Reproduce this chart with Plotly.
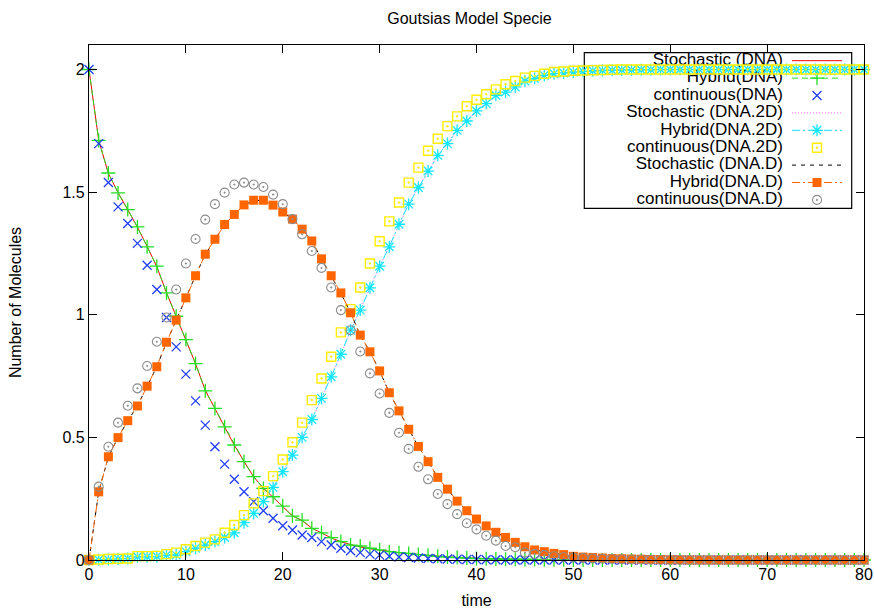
import plotly.graph_objects as go

# ---------------- data ----------------
time = list(range(0, 81))

stochastic_dna = [2.0, 1.712, 1.576, 1.498, 1.428, 1.357, 1.279, 1.196, 1.090, 0.993, 0.900, 0.800, 0.692, 0.617, 0.544, 0.468,
                  0.402, 0.339, 0.293, 0.256, 0.221, 0.180, 0.160, 0.130, 0.110, 0.090, 0.074, 0.063, 0.053, 0.046, 0.040,
                  0.034, 0.030, 0.026, 0.022, 0.019, 0.015, 0.012, 0.010, 0.008, 0.006, 0.005, 0.004, 0.003, 0.003, 0.002,
                  0.002, 0.001, 0.001, 0.001] + [0.0] * 31
hybrid_dna = [2.0, 1.711, 1.578, 1.497, 1.429, 1.358, 1.277, 1.198, 1.089, 0.994, 0.899, 0.801, 0.690, 0.618, 0.543, 0.469,
              0.401, 0.340, 0.292, 0.258, 0.220, 0.179, 0.163, 0.129, 0.111, 0.091, 0.075, 0.061, 0.057, 0.048, 0.041,
              0.034, 0.030, 0.027, 0.022, 0.019, 0.015, 0.012, 0.010, 0.008, 0.006, 0.005, 0.004, 0.003, 0.003, 0.002,
              0.002, 0.001, 0.001, 0.001] + [0.0] * 31
continuous_dna = [2.0, 1.698, 1.539, 1.440, 1.372, 1.291, 1.202, 1.103, 0.989, 0.869, 0.758, 0.649, 0.550, 0.462, 0.391,
                  0.329, 0.278, 0.238, 0.201, 0.170, 0.140, 0.122, 0.102, 0.092, 0.075, 0.061, 0.048, 0.038, 0.030, 0.024,
                  0.020, 0.015, 0.012, 0.010, 0.008, 0.006, 0.005, 0.004, 0.003, 0.002, 0.002, 0.001, 0.001] + [0.0] * 38

stochastic_dna2d = [0.0, 0.001, 0.002, 0.004, 0.006, 0.012, 0.013, 0.015, 0.019, 0.021, 0.033, 0.047, 0.062, 0.075, 0.093,
                    0.113, 0.151, 0.189, 0.239, 0.297, 0.359, 0.429, 0.499, 0.574, 0.658, 0.748, 0.838, 0.936, 1.020,
                    1.109, 1.199, 1.278, 1.368, 1.450, 1.520, 1.585, 1.649, 1.699, 1.751, 1.791, 1.830, 1.862, 1.894,
                    1.909, 1.929, 1.952, 1.963, 1.976, 1.983, 1.986, 1.990, 1.993, 1.995, 1.996, 1.997, 1.998, 1.998,
                    1.999, 1.999] + [2.0] * 22
hybrid_dna2d = [0.0, 0.001, 0.002, 0.004, 0.006, 0.013, 0.013, 0.014, 0.020, 0.020, 0.034, 0.048, 0.061, 0.075, 0.092,
                0.111, 0.152, 0.190, 0.238, 0.296, 0.360, 0.428, 0.500, 0.573, 0.659, 0.747, 0.839, 0.937, 1.019, 1.110,
                1.198, 1.277, 1.369, 1.451, 1.519, 1.586, 1.650, 1.698, 1.752, 1.790, 1.831, 1.861, 1.895, 1.908, 1.929,
                1.953, 1.963, 1.976, 1.983, 1.986, 1.990, 1.993, 1.995, 1.996, 1.997, 1.998, 1.998, 1.999, 1.999] + [2.0] * 22
continuous_dna2d = [0.0, 0.002, 0.004, 0.005, 0.006, 0.016, 0.016, 0.017, 0.024, 0.030, 0.044, 0.057, 0.071, 0.084, 0.111,
                    0.143, 0.183, 0.231, 0.281, 0.342, 0.410, 0.480, 0.560, 0.652, 0.740, 0.829, 0.928, 1.023, 1.111,
                    1.209, 1.300, 1.381, 1.458, 1.539, 1.600, 1.669, 1.718, 1.769, 1.809, 1.850, 1.877, 1.899, 1.919,
                    1.940, 1.953, 1.967, 1.974, 1.983, 1.990, 1.992, 1.995, 1.996, 1.997, 1.998, 1.999] + [2.0] * 26

stochastic_dnad = [0.0, 0.279, 0.420, 0.500, 0.567, 0.629, 0.708, 0.789, 0.887, 0.979, 1.068, 1.160, 1.246, 1.309, 1.367,
                   1.410, 1.447, 1.466, 1.466, 1.448, 1.418, 1.391, 1.348, 1.302, 1.227, 1.160, 1.088, 1.009, 0.916,
                   0.850, 0.770, 0.683, 0.607, 0.534, 0.462, 0.402, 0.336, 0.290, 0.239, 0.202, 0.166, 0.140, 0.112,
                   0.093, 0.071, 0.055, 0.041, 0.034, 0.027, 0.022, 0.015, 0.012, 0.010, 0.008, 0.006, 0.005, 0.004,
                   0.003, 0.002, 0.002, 0.001, 0.001] + [0.0] * 19
hybrid_dnad = [0.0, 0.278, 0.421, 0.499, 0.568, 0.628, 0.709, 0.788, 0.888, 0.978, 1.069, 1.159, 1.247, 1.308, 1.368,
               1.409, 1.448, 1.467, 1.467, 1.447, 1.419, 1.390, 1.349, 1.301, 1.228, 1.159, 1.089, 1.008, 0.917, 0.849,
               0.771, 0.682, 0.608, 0.533, 0.463, 0.401, 0.337, 0.289, 0.240, 0.201, 0.167, 0.139, 0.113, 0.092, 0.072,
               0.054, 0.041, 0.034, 0.027, 0.022, 0.015, 0.012, 0.010, 0.008, 0.006, 0.005, 0.004, 0.003, 0.002, 0.002,
               0.001, 0.001] + [0.0] * 19
continuous_dnad = [0.0, 0.299, 0.462, 0.560, 0.629, 0.700, 0.791, 0.890, 0.989, 1.103, 1.209, 1.309, 1.388, 1.451, 1.498,
                   1.531, 1.539, 1.531, 1.521, 1.490, 1.451, 1.390, 1.328, 1.260, 1.191, 1.111, 1.019, 0.937, 0.850,
                   0.761, 0.679, 0.600, 0.519, 0.453, 0.380, 0.329, 0.269, 0.228, 0.187, 0.150, 0.125, 0.099, 0.079,
                   0.057, 0.052, 0.030, 0.024, 0.020, 0.015, 0.012, 0.010, 0.008, 0.006, 0.005, 0.004, 0.003, 0.002,
                   0.002, 0.001] + [0.0] * 22

x_ticks = [0, 10, 20, 30, 40, 50, 60, 70, 80]
y_ticks = [0, 0.5, 1, 1.5, 2]
y_tick_labels = ["0", "0.5", "1", "1.5", "2"]

# ---------------- styling ----------------
FONT = "Liberation Sans, Arial, Helvetica, sans-serif"
W, H = 874, 614
ML, MR, MT, MB = 89, 10, 45, 54
XR = [0, 80]
YR = [0, 2.1]

series = [
    dict(name="Stochastic (DNA)", y=stochastic_dna, mode="lines", color="#ff0000", dash="solid", symbol=None),
    dict(name="Hybrid(DNA)", y=hybrid_dna, mode="lines+markers", color="#22e022", dash="6px,4px",
         symbol="cross-thin-open", size=10, lw=1.3),
    dict(name="continuous(DNA)", y=continuous_dna, mode="markers", color="#1f3cf5", dash=None,
         symbol="x-thin-open", size=9, lw=1.3),
    dict(name="Stochastic (DNA.2D)", y=stochastic_dna2d, mode="lines", color="#ff66ff", dash="1px,2px", symbol=None),
    dict(name="Hybrid(DNA.2D)", y=hybrid_dna2d, mode="lines+markers", color="#11e6ff", dash="8px,3px,2px,3px",
         symbol="asterisk-open", size=10, lw=1.3),
    dict(name="continuous(DNA.2D)", y=continuous_dna2d, mode="markers", color="#ffee00", dash=None,
         symbol="square-open-dot", size=9, lw=1.4),
    dict(name="Stochastic (DNA.D)", y=stochastic_dnad, mode="lines", color="#000000", dash="4px,5px", symbol=None),
    dict(name="Hybrid(DNA.D)", y=hybrid_dnad, mode="lines+markers", color="#ff6600", dash="8px,3px,2px,3px",
         symbol="square", size=9, lw=0),
    dict(name="continuous(DNA.D)", y=continuous_dnad, mode="markers", color="#8c8c8c", dash=None,
         symbol="circle-open-dot", size=9, lw=1.1),
]

pw = W - ML - MR
ph = H - MT - MB


def px2x(px):
    return XR[0] + (px - ML) / pw * (XR[1] - XR[0])


def py2y(py):
    return YR[0] + (H - MB - py) / ph * (YR[1] - YR[0])


fig = go.Figure()

# ---- legend (drawn first so the data sits on top) ----
LEG_TEXT_RIGHT = 783
LEG_S0, LEG_S1 = 792, 842
LEG_ROW0, LEG_ROWSTEP = 60.7, 17.4
for i, s in enumerate(series):
    py = LEG_ROW0 + i * LEG_ROWSTEP
    fig.add_trace(go.Scatter(x=[px2x(LEG_TEXT_RIGHT)], y=[py2y(py)], mode="text", text=[s["name"]],
                             textposition="middle left", textfont=dict(family=FONT, size=17, color="black"),
                             showlegend=False, hoverinfo="skip", cliponaxis=False))
    if s["dash"] is not None:
        fig.add_trace(go.Scatter(x=[px2x(LEG_S0), px2x(LEG_S1)], y=[py2y(py)] * 2, mode="lines",
                                 line=dict(color=s["color"], width=1, dash=s["dash"]),
                                 showlegend=False, hoverinfo="skip", cliponaxis=False))
    if s["symbol"] is not None:
        fig.add_trace(go.Scatter(x=[px2x((LEG_S0 + LEG_S1) / 2)], y=[py2y(py)], mode="markers",
                                 marker=dict(symbol=s["symbol"], size=s["size"], color=s["color"],
                                             line=dict(color=s["color"], width=s["lw"])),
                                 showlegend=False, hoverinfo="skip", cliponaxis=False))

fig.add_shape(type="rect", xref="x", yref="y", x0=px2x(584.3), x1=px2x(851.7), y0=py2y(52.7), y1=py2y(208.3),
              line=dict(color="black", width=1.2), fillcolor="rgba(0,0,0,0)", layer="below")

# ---- data ----
for s in series:
    kw = dict(x=time, y=s["y"], name=s["name"], mode=s["mode"], showlegend=False, cliponaxis=False)
    if "lines" in s["mode"]:
        kw["line"] = dict(color=s["color"], width=1, dash=s["dash"])
    if "markers" in s["mode"]:
        kw["marker"] = dict(symbol=s["symbol"], size=s["size"], color=s["color"],
                            line=dict(color=s["color"], width=s["lw"]))
    fig.add_trace(go.Scatter(**kw))

axis_common = dict(showline=True, linecolor="black", linewidth=1.2, mirror="allticks", ticks="inside",
                   ticklen=8, tickcolor="black", tickwidth=1, showgrid=False, zeroline=False, automargin=False,
                   tickfont=dict(family=FONT, size=16, color="black"))

fig.update_layout(
    width=W, height=H,
    margin=dict(l=ML, r=MR, t=MT, b=MB, autoexpand=False),
    paper_bgcolor="white", plot_bgcolor="white",
    font=dict(family=FONT, size=16, color="black"),
    title=dict(text="Goutsias Model Specie", x=469.5 / W, xref="container", xanchor="center",
               y=1 - 18 / H, yref="container", yanchor="middle", font=dict(family=FONT, size=16, color="black")),
    xaxis=dict(range=XR, tickvals=x_ticks, title=dict(text="time", standoff=12,
                                                     font=dict(family=FONT, size=16)), **axis_common),
    yaxis=dict(range=YR, tickvals=y_ticks, ticktext=y_tick_labels,
               title=dict(text="Number of Molecules", standoff=36, font=dict(family=FONT, size=16)), **axis_common),
)

fig.write_html("out.html")
